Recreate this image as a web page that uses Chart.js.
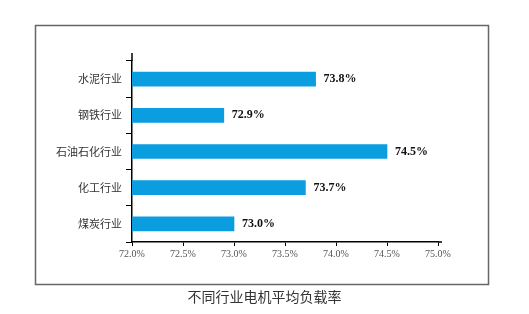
<!DOCTYPE html>
<html>
<head>
<meta charset="utf-8">
<script src="https://cdn.jsdelivr.net/npm/chart.js@4/dist/chart.umd.min.js"></script>
<style>
  html, body { margin: 0; padding: 0; background: #fff; }
  #wrap { width: 529px; height: 314px; }
</style>
</head>
<body>
<div id="wrap"><canvas id="myChart" width="529" height="314"></canvas></div>
<script>
  const industries = ['水泥行业', '钢铁行业', '石油石化行业', '化工行业', '煤炭行业'];
  const loadRates = [73.8, 72.9, 74.5, 73.7, 73.0];
  const rateLabels = ['73.8%', '72.9%', '74.5%', '73.7%', '73.0%'];
  const chartTitle = '不同行业电机平均负载率';

  // frame around the plot, axis overhangs and the caption below
  const frame = {
    id: 'frame',
    beforeDraw(chart) {
      const ctx = chart.ctx;
      ctx.save();
      ctx.strokeStyle = '#666';
      ctx.lineWidth = 1.5;
      ctx.strokeRect(35.5, 25.5, 453, 259);
      ctx.restore();
    },
    afterDraw(chart) {
      const ctx = chart.ctx;
      const a = chart.chartArea;
      ctx.save();
      ctx.strokeStyle = '#000';
      ctx.lineWidth = 1.5;
      ctx.beginPath();
      ctx.moveTo(a.left, a.top);
      ctx.lineTo(a.left, a.top - 8);
      ctx.moveTo(a.right, a.bottom);
      ctx.lineTo(a.right + 4, a.bottom);
      ctx.stroke();
      ctx.font = '14px "Noto Sans CJK SC", sans-serif';
      ctx.fillStyle = '#333';
      ctx.textAlign = 'center';
      ctx.textBaseline = 'middle';
      ctx.fillText(chartTitle, 264.5, 297);
      ctx.restore();
    }
  };

  // value labels at bar ends
  const barLabels = {
    id: 'barLabels',
    afterDatasetsDraw(chart) {
      const ctx = chart.ctx;
      const meta = chart.getDatasetMeta(0);
      ctx.save();
      ctx.font = 'bold 12px "Liberation Serif", serif';
      ctx.fillStyle = '#111';
      ctx.textBaseline = 'middle';
      meta.data.forEach((bar, i) => {
        ctx.fillText(rateLabels[i], bar.x + 8, bar.y);
      });
      ctx.restore();
    }
  };

  const config = {
    type: 'bar',
    data: {
      labels: industries,
      datasets: [{
        data: loadRates,
        backgroundColor: '#0A9DE0',
        barThickness: 14,
      }]
    },
    options: {
      indexAxis: 'y',
      responsive: false,
      animation: false,
      layout: {
        padding: { left: 36, right: 91, top: 61, bottom: 52 }
      },
      scales: {
        x: {
          min: 72,
          max: 75,
          ticks: {
            stepSize: 0.5,
            color: '#555',
            font: { family: '"Liberation Serif", serif', size: 10 },
            padding: 2,
            callback: (v) => Number(v).toFixed(1) + '%'
          },
          grid: { drawOnChartArea: false, tickLength: 4, color: '#000' },
          border: { color: '#000', width: 1.5 },
          afterFit(scale) { scale.height = 20; }
        },
        y: {
          ticks: {
            color: '#333',
            font: { family: '"Noto Sans CJK SC", sans-serif', size: 11 },
            padding: 4
          },
          grid: { drawOnChartArea: false, tickLength: 6, color: '#000' },
          border: { color: '#000', width: 1.5 },
          afterFit(scale) { scale.width = 96; }
        }
      },
      plugins: {
        legend: { display: false },
        tooltip: { enabled: false },
        title: { display: false }
      }
    },
    plugins: [frame, barLabels]
  };

  const myChart = new Chart(document.getElementById('myChart'), config);
</script>
</body>
</html>
